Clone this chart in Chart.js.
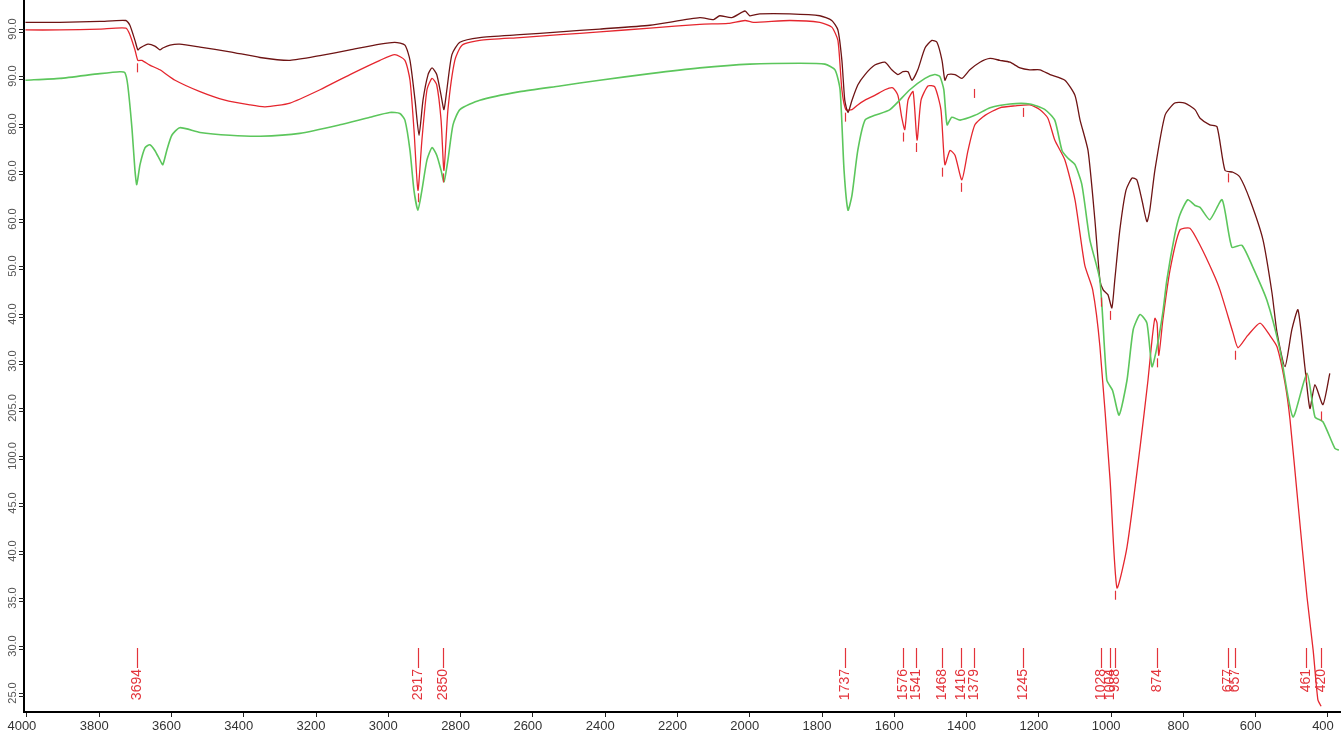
<!DOCTYPE html>
<html>
<head>
<meta charset="utf-8">
<script src="https://cdn.jsdelivr.net/npm/chart.js@4/dist/chart.umd.min.js"></script>
<style>
  html, body { margin: 0; padding: 0; background: #ffffff; }
  #wrap { width: 1341px; height: 734px; }
</style>
</head>
<body>
<div id="wrap"><canvas id="ir" width="1341" height="734"></canvas></div>
<script>
// Wavenumber axis (cm-1) tick values
const xTickValues = [4000, 3800, 3600, 3400, 3200, 3000, 2800, 2600, 2400, 2200, 2000, 1800, 1600, 1400, 1200, 1000, 800, 600, 400];

// Transmittance axis tick values and their printed labels
const yTickValues = [95, 90, 85, 80, 75, 70, 65, 60, 55, 50, 45, 40, 35, 30, 25];
const yTickLabels = ["90.0", "90.0", "80.0", "60.0", "60.0", "50.0", "40.0", "30.0", "205.0", "100.0", "45.0", "40.0", "35.0", "30.0", "25.0"];

// Spectrum 1 (dark red)
const darkWN = [4004, 3909, 3798, 3726, 3715, 3701, 3693, 3687, 3665, 3646, 3632, 3624, 3604, 3577, 3521, 3438, 3355, 3272, 3189, 3106, 3023, 2982, 2954, 2940, 2926, 2915, 2904, 2890, 2879, 2866, 2854, 2846, 2838, 2824, 2802, 2747, 2636, 2525, 2415, 2276, 2138, 2100, 2083, 2050, 2013, 2000, 1972, 1889, 1806, 1773, 1756, 1745, 1737, 1728, 1717, 1701, 1681, 1654, 1626, 1607, 1590, 1576, 1562, 1551, 1535, 1515, 1496, 1482, 1468, 1460, 1452, 1432, 1413, 1391, 1363, 1335, 1308, 1280, 1252, 1225, 1197, 1169, 1128, 1100, 1086, 1064, 1045, 1031, 1022, 1009, 998, 990, 976, 959, 942, 929, 915, 901, 893, 879, 851, 824, 796, 768, 754, 727, 707, 685, 663, 644, 616, 580, 555, 541, 519, 500, 483, 464, 450, 436, 414, 395];
const darkT = [95.7, 95.7, 95.8, 95.9, 95.4, 93.8, 92.8, 93.0, 93.4, 93.2, 92.8, 93.0, 93.3, 93.4, 93.1, 92.6, 92.0, 91.7, 92.2, 92.8, 93.4, 93.6, 93.3, 91.7, 87.5, 83.8, 87.5, 90.2, 90.9, 90.2, 88.0, 86.5, 88.6, 92.3, 93.6, 94.1, 94.4, 94.7, 95.0, 95.4, 96.2, 96.0, 96.4, 96.2, 96.9, 96.4, 96.6, 96.6, 96.4, 95.9, 94.9, 91.7, 87.5, 86.2, 87.5, 89.1, 90.2, 91.2, 91.5, 90.7, 90.2, 90.5, 90.5, 89.6, 90.7, 93.0, 93.8, 93.6, 91.7, 89.6, 90.2, 90.2, 89.8, 90.7, 91.5, 91.9, 91.7, 91.5, 90.9, 90.7, 90.7, 90.2, 89.6, 88.0, 85.4, 82.2, 74.9, 68.5, 67.5, 67.0, 65.6, 68.5, 73.8, 78.0, 79.3, 79.1, 77.0, 74.7, 75.9, 80.1, 85.9, 87.2, 87.2, 86.5, 85.6, 84.9, 84.7, 80.1, 79.9, 79.4, 77.0, 72.8, 67.2, 63.0, 59.4, 63.3, 65.4, 59.4, 55.0, 57.5, 55.4, 58.7];

// Spectrum 2 (red)
const redWN = [4004, 3909, 3798, 3726, 3715, 3701, 3693, 3682, 3660, 3632, 3590, 3521, 3452, 3383, 3341, 3272, 3189, 3106, 3023, 2982, 2954, 2940, 2929, 2918, 2907, 2893, 2879, 2866, 2854, 2846, 2835, 2816, 2796, 2747, 2636, 2525, 2415, 2276, 2138, 2060, 2013, 1990, 1889, 1806, 1773, 1756, 1745, 1734, 1717, 1701, 1681, 1654, 1626, 1604, 1590, 1579, 1571, 1562, 1548, 1537, 1526, 1507, 1488, 1471, 1460, 1446, 1432, 1413, 1396, 1377, 1349, 1308, 1266, 1225, 1197, 1175, 1156, 1128, 1100, 1073, 1051, 1031, 1003, 984, 956, 920, 898, 887, 879, 873, 868, 857, 837, 810, 782, 754, 718, 699, 663, 649, 622, 588, 561, 541, 519, 505, 483, 458, 441, 428, 419];
const redT = [94.9, 94.9, 95.0, 95.1, 94.4, 92.8, 91.7, 91.7, 91.2, 90.7, 89.6, 88.4, 87.5, 87.0, 86.8, 87.2, 88.6, 90.2, 91.7, 92.3, 91.7, 89.6, 84.4, 78.0, 83.3, 88.6, 89.8, 89.1, 85.4, 80.1, 86.5, 91.7, 93.3, 93.8, 94.1, 94.4, 94.7, 95.1, 95.5, 95.6, 95.9, 95.7, 95.9, 95.7, 95.2, 93.8, 88.6, 86.5, 86.5, 87.0, 87.5, 88.0, 88.6, 88.8, 88.0, 85.6, 84.4, 87.5, 88.4, 83.3, 87.5, 89.0, 88.9, 86.5, 80.7, 82.2, 81.7, 79.1, 82.2, 84.9, 85.9, 86.7, 86.9, 87.0, 86.5, 85.6, 83.3, 81.2, 77.0, 70.1, 67.5, 61.5, 47.5, 36.1, 40.4, 50.9, 58.0, 62.2, 64.5, 64.0, 60.6, 64.3, 69.6, 73.8, 74.0, 72.2, 69.3, 67.5, 63.0, 61.4, 62.7, 64.0, 62.7, 61.5, 57.7, 53.8, 45.0, 35.1, 29.5, 24.3, 23.6];

// Spectrum 3 (green)
const greenWN = [4004, 3909, 3798, 3743, 3729, 3721, 3709, 3701, 3696, 3687, 3673, 3660, 3646, 3632, 3624, 3613, 3599, 3577, 3521, 3438, 3355, 3245, 3134, 3051, 2996, 2968, 2954, 2940, 2929, 2918, 2907, 2893, 2879, 2866, 2854, 2846, 2835, 2821, 2802, 2747, 2636, 2525, 2415, 2276, 2138, 2000, 1861, 1792, 1764, 1750, 1739, 1728, 1717, 1701, 1681, 1654, 1612, 1557, 1515, 1488, 1474, 1463, 1454, 1441, 1418, 1377, 1335, 1280, 1225, 1183, 1156, 1136, 1120, 1100, 1081, 1059, 1031, 1012, 996, 978, 956, 939, 920, 901, 887, 873, 857, 846, 824, 810, 788, 768, 754, 727, 693, 666, 638, 608, 569, 533, 497, 458, 436, 414, 381, 370];
const greenT = [89.6, 89.8, 90.3, 90.5, 90.4, 89.1, 84.4, 80.1, 78.6, 80.7, 82.5, 82.8, 82.2, 81.2, 80.7, 82.2, 83.8, 84.6, 84.1, 83.8, 83.7, 84.0, 84.9, 85.7, 86.2, 86.1, 85.4, 82.2, 78.0, 75.9, 78.0, 81.2, 82.5, 81.7, 80.1, 78.9, 81.2, 84.9, 86.5, 87.5, 88.4, 89.0, 89.6, 90.3, 90.9, 91.3, 91.4, 91.3, 90.7, 88.6, 80.1, 75.9, 77.5, 82.2, 85.4, 85.9, 86.5, 88.6, 89.8, 90.2, 90.0, 88.6, 84.9, 85.7, 85.4, 85.9, 86.7, 87.1, 87.1, 86.5, 85.4, 82.2, 81.4, 80.7, 78.6, 72.8, 68.5, 58.0, 56.9, 54.3, 58.0, 63.3, 64.9, 64.0, 59.4, 61.5, 65.1, 68.5, 73.3, 75.4, 77.0, 76.4, 76.2, 74.9, 77.0, 72.0, 72.2, 69.9, 66.4, 61.2, 54.1, 58.7, 54.1, 53.6, 50.8, 50.6];

// Picked peaks: wavenumber, printed label, and transmittance where the small marker sits
const peakWN = [3694, 2917, 2850, 1737, 1576, 1541, 1468, 1416, 1379, 1245, 1028, 1004, 988, 874, 677, 657, 461, 420];
const peakLabels = ["3694", "2917", "2850", "1737", "1576", "1541", "1468", "1416", "1379", "1245", "1028", "1004", "988", "874", "677", "657", "461", "420"];
const peakMarkT = [91.7, 78.0, 80.1, 86.5, 84.4, 83.3, 80.7, 79.1, 89.0, 87.0, 67.0, 65.6, 36.1, 60.6, 80.1, 61.4, 59.0, 55.0];

const toPoints = (wn, t) => wn.map((w, i) => ({ x: w, y: t[i] }));

const FONT = '"Liberation Sans", Arial, sans-serif';
const PEAK_RED = '#e3333b';

const peakPlugin = {
  id: 'peakAndAxisText',
  afterDraw(chart) {
    const { ctx, chartArea, scales: { x, y } } = chart;
    ctx.save();

    // y axis: double tick marks and rotated labels
    ctx.strokeStyle = '#222';
    ctx.lineWidth = 1;
    ctx.fillStyle = '#555';
    ctx.font = '11px ' + FONT;
    yTickValues.forEach((v, i) => {
      const py = Math.round(y.getPixelForValue(v));
      ctx.beginPath();
      ctx.moveTo(chartArea.left - 5, py + 0.5);
      ctx.lineTo(chartArea.left, py + 0.5);
      ctx.moveTo(chartArea.left - 5, py + 3.5);
      ctx.lineTo(chartArea.left, py + 3.5);
      ctx.stroke();
      ctx.save();
      ctx.translate(chartArea.left - 11, py);
      ctx.rotate(-Math.PI / 2);
      ctx.textAlign = 'center';
      ctx.textBaseline = 'middle';
      ctx.fillText(yTickLabels[i], 0, 0);
      ctx.restore();
    });

    // peak markers under the curves, leader lines and rotated labels
    ctx.strokeStyle = PEAK_RED;
    ctx.fillStyle = PEAK_RED;
    ctx.lineWidth = 1.2;
    ctx.font = '14px ' + FONT;
    peakWN.forEach((w, i) => {
      const px = Math.round(x.getPixelForValue(w)) + 0.5;
      const my = y.getPixelForValue(peakMarkT[i]);
      ctx.beginPath();
      ctx.moveTo(px, my + 3);
      ctx.lineTo(px, my + 12);
      ctx.stroke();

      const top = chartArea.bottom - 64;
      const bot = chartArea.bottom - 44;
      ctx.beginPath();
      ctx.moveTo(px, top);
      ctx.lineTo(px, bot);
      ctx.stroke();

      ctx.save();
      ctx.translate(px, bot + 1);
      ctx.rotate(-Math.PI / 2);
      ctx.textAlign = 'right';
      ctx.textBaseline = 'middle';
      ctx.fillText(peakLabels[i], 0, 0);
      ctx.restore();
    });
    ctx.restore();
  }
};

new Chart(document.getElementById('ir'), {
  type: 'line',
  data: {
    datasets: [
      { label: 'green', data: toPoints(greenWN, greenT), borderColor: '#5cc65c', borderWidth: 1.6 },
      { label: 'dark', data: toPoints(darkWN, darkT), borderColor: '#6e1414', borderWidth: 1.3 },
      { label: 'red', data: toPoints(redWN, redT), borderColor: '#e5262e', borderWidth: 1.3 }
    ]
  },
  options: {
    responsive: false,
    animation: false,
    events: [],
    parsing: false,
    elements: {
      point: { radius: 0 },
      line: { tension: 0.2, fill: false }
    },
    layout: { padding: 0 },
    plugins: { legend: { display: false }, tooltip: { enabled: false } },
    scales: {
      x: {
        type: 'linear',
        reverse: true,
        min: 364,
        max: 4008,
        afterBuildTicks: (s) => { s.ticks = xTickValues.map(v => ({ value: v })); },
        afterFit: (s) => { s.height = 22; },
        grid: { display: true, drawOnChartArea: false, drawTicks: true, tickLength: 5, color: '#222', tickWidth: 1 },
        border: { display: true, color: '#000', width: 2 },
        ticks: {
          autoSkip: false,
          maxRotation: 0,
          minRotation: 0,
          padding: 2,
          labelOffset: -5,
          color: '#333',
          font: { family: FONT, size: 13 },
          callback: (v) => String(v)
        }
      },
      y: {
        type: 'linear',
        min: 23,
        max: 98.06,
        afterBuildTicks: (s) => { s.ticks = yTickValues.map(v => ({ value: v })); },
        afterFit: (s) => { s.width = 24; },
        grid: { display: false },
        border: { display: true, color: '#000', width: 2 },
        ticks: { display: false }
      }
    }
  },
  plugins: [peakPlugin]
});
</script>
</body>
</html>
